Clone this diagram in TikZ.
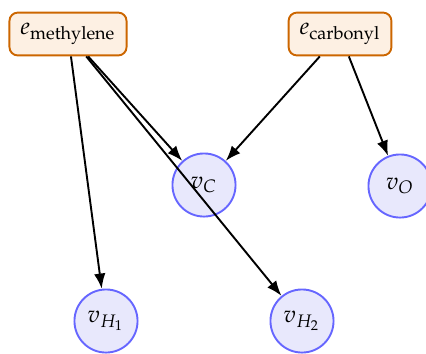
\documentclass[tikz,border=0pt]{standalone}
\usepackage[T1]{fontenc}
\usepackage{mathpazo}
\usetikzlibrary{arrows.meta}
\definecolor{edgeborder}{RGB}{204,102,0}
\definecolor{edgefill}{RGB}{253,240,227}
\definecolor{vertborder}{RGB}{102,102,255}
\definecolor{vertfill}{RGB}{232,232,252}
\tikzset{
  hyperedge/.style={draw=edgeborder, fill=edgefill, line width=0.8pt,
    rounded corners=3.5pt, minimum height=18pt, inner xsep=4.6pt},
  vertex/.style={circle, draw=vertborder, fill=vertfill, line width=0.8pt,
    minimum size=26.5pt, inner sep=0pt},
  link/.style={-{Latex[length=6.4pt,width=4.8pt]}, line width=0.8pt, black},
}
\begin{document}
\begin{tikzpicture}[x=0.42pt,y=-0.42pt]
  \useasboundingbox (0,0) rectangle (426,353);
  \node[hyperedge] (em) at (68,34) {$e_{\mathrm{methylene}}$};
  \node[hyperedge] (ec) at (340,34) {$e_{\mathrm{carbonyl}}$};
  \node[vertex] (vc) at (204,185) {$v_C$};
  \node[vertex] (vo) at (400,186) {$v_O$};
  \node[vertex] (vh1) at (106,321) {$v_{H_1}$};
  \node[vertex] (vh2) at (302,321) {$v_{H_2}$};
  \draw[link] (em) -- (vh1);
  \draw[link] (em) -- (vc);
  \draw[link] (em) -- (vh2);
  \draw[link] (ec) -- (vc);
  \draw[link] (ec) -- (vo);
\end{tikzpicture}
\end{document}
